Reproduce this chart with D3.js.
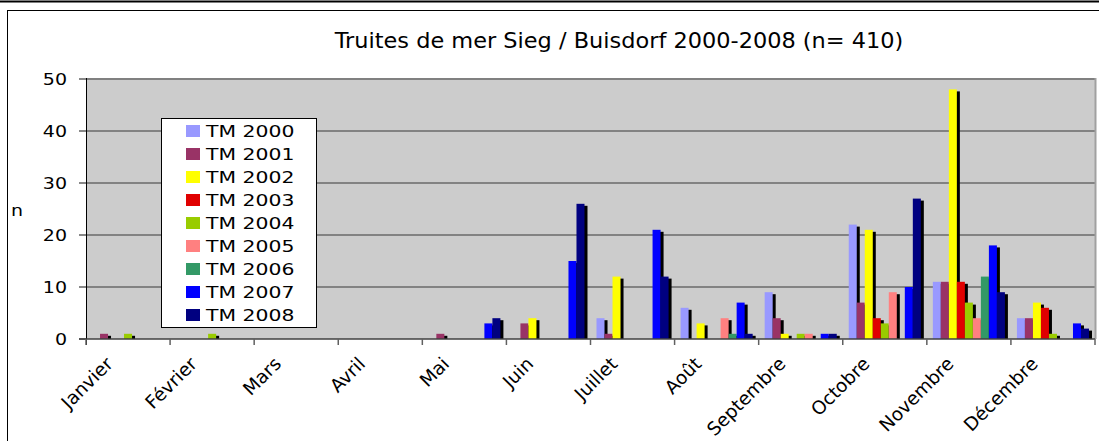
<!DOCTYPE html>
<html>
<head>
<meta charset="utf-8">
<script src="https://cdn.jsdelivr.net/npm/d3@7"></script>
<style>
  body { margin: 0; background: #fff; }
  svg text { font-family: "DejaVu Sans", Verdana, sans-serif; fill: #000; }
</style>
</head>
<body>
<svg id="chart" width="1099" height="441"></svg>
<script>
// months on the x axis
var months = ["Janvier", "Février", "Mars", "Avril", "Mai", "Juin", "Juillet",
	"Août", "Septembre", "Octobre", "Novembre", "Décembre"];
var seriesNames = ["TM 2000", "TM 2001", "TM 2002", "TM 2003", "TM 2004",
	"TM 2005", "TM 2006", "TM 2007", "TM 2008"];
var seriesColors = ["#9999ff", "#993366", "#ffff00", "#e00000", "#99cc00",
	"#ff8080", "#339966", "#0000ff", "#000080"];

// counts per month, one array per year
var tm2000 = [0, 0, 0, 0, 0, 0, 4, 6, 9, 22, 11, 4];
var tm2001 = [1, 0, 0, 0, 1, 3, 1, 0, 4, 7, 11, 4];
var tm2002 = [0, 0, 0, 0, 0, 4, 12, 3, 1, 21, 48, 7];
var tm2003 = [0, 0, 0, 0, 0, 0, 0, 0, 0, 4, 11, 6];
var tm2004 = [1, 1, 0, 0, 0, 0, 0, 0, 1, 3, 7, 1];
var tm2005 = [0, 0, 0, 0, 0, 0, 0, 4, 1, 9, 4, 0];
var tm2006 = [0, 0, 0, 0, 0, 0, 0, 1, 0, 0, 12, 0];
var tm2007 = [0, 0, 0, 0, 3, 15, 21, 7, 1, 10, 18, 3];
var tm2008 = [0, 0, 0, 0, 4, 26, 12, 1, 1, 27, 9, 2];
var seriesValues = [tm2000, tm2001, tm2002, tm2003, tm2004, tm2005, tm2006, tm2007, tm2008];

var yTicks = [0, 10, 20, 30, 40, 50];
var chartTitle = "Truites de mer Sieg / Buisdorf 2000-2008 (n= 410)";

var svg = d3.select("#chart");
var plot = { left: 86, right: 1095, top: 79, bottom: 339 };

// outer frame
svg.append("line")
	.attr("x1", 0).attr("x2", 1099).attr("y1", 1.5).attr("y2", 1.5)
	.style("stroke", "#000").style("stroke-width", 2);
svg.append("rect")
	.attr("x", 7.5).attr("y", 10.5).attr("width", 1110).attr("height", 450)
	.style("fill", "#fff").style("stroke", "#000").style("stroke-width", 1);

var x = d3.scaleBand()
	.domain(months)
	.range([plot.left, plot.right])
	.paddingInner(0).paddingOuter(0);
var xs = d3.scaleBand()
	.domain(seriesNames)
	.range([0, x.bandwidth()])
	.paddingInner(0).paddingOuter(0.75);
var y = d3.scaleLinear()
	.domain([0, 50])
	.range([plot.bottom, plot.top]);

// plot background
svg.append("rect")
	.attr("x", plot.left).attr("y", plot.top)
	.attr("width", plot.right - plot.left).attr("height", plot.bottom - plot.top)
	.style("fill", "#cccccc");

// gridlines
svg.append("g").selectAll("line")
	.data(yTicks.filter(d => d > 0))
	.enter().append("line")
	.attr("x1", plot.left).attr("x2", plot.right)
	.attr("y1", d => y(d)).attr("y2", d => y(d))
	.style("stroke", d => d == 50 ? "#808080" : "#6a6a6a")
	.style("stroke-width", d => d == 50 ? 2 : 1.5);

// right edge of plot area
svg.append("line")
	.attr("x1", plot.right + 0.5).attr("x2", plot.right + 0.5)
	.attr("y1", plot.top - 1).attr("y2", plot.bottom)
	.style("stroke", "#a0a0a0").style("stroke-width", 2);

// bars with their dark shadows
seriesNames.forEach(function (name, i) {
	var g = svg.append("g");
	var rows = months.map((m, k) => ({ month: m, value: seriesValues[i][k] }))
		.filter(d => d.value > 0);
	g.selectAll("rect.shadow")
		.data(rows)
		.enter().append("rect")
		.attr("class", "shadow")
		.attr("x", d => x(d.month) + xs(name) + 3)
		.attr("y", d => y(d.value) + 2)
		.attr("width", xs.bandwidth())
		.attr("height", d => Math.max(0, y(0) - y(d.value) - 2))
		.style("fill", "#000");
	g.selectAll("rect.bar")
		.data(rows)
		.enter().append("rect")
		.attr("class", "bar")
		.attr("x", d => x(d.month) + xs(name))
		.attr("y", d => y(d.value))
		.attr("width", xs.bandwidth())
		.attr("height", d => y(0) - y(d.value))
		.style("fill", seriesColors[i]);
});

// y axis
svg.append("line")
	.attr("x1", plot.left + 0.5).attr("x2", plot.left + 0.5)
	.attr("y1", plot.top - 1).attr("y2", plot.bottom + 6)
	.style("stroke", "#000").style("stroke-width", 1);
svg.append("g").selectAll("line")
	.data(yTicks)
	.enter().append("line")
	.attr("x1", plot.left - 7).attr("x2", plot.left)
	.attr("y1", d => y(d)).attr("y2", d => y(d))
	.style("stroke", "#606060").style("stroke-width", 1.5);
svg.append("g").selectAll("text")
	.data(yTicks)
	.enter().append("text")
	.attr("text-anchor", "end")
	.attr("transform", d => `translate(67,${y(d) + 6}) scale(1,0.85)`)
	.style("font-size", "19px")
	.text(d => d);

svg.append("text")
	.attr("transform", "translate(11,216) scale(1,0.85)")
	.style("font-size", "19px")
	.text("n");

// x axis
svg.append("line")
	.attr("x1", plot.left - 7).attr("x2", plot.right)
	.attr("y1", plot.bottom).attr("y2", plot.bottom)
	.style("stroke", "#404040").style("stroke-width", 1.5);
svg.append("g").selectAll("line")
	.data(months.concat(["end"]))
	.enter().append("line")
	.attr("x1", (d, k) => plot.left + k * x.step())
	.attr("x2", (d, k) => plot.left + k * x.step())
	.attr("y1", plot.bottom).attr("y2", plot.bottom + 6)
	.style("stroke", "#606060").style("stroke-width", 1.5);
svg.append("g").selectAll("text")
	.data(months)
	.enter().append("text")
	.attr("text-anchor", "end")
	.attr("transform", d => `translate(${x(d) + x.bandwidth() / 2 - 14},365) rotate(-45)`)
	.style("font-size", "18.5px")
	.text(d => d);

// title
svg.append("text")
	.attr("text-anchor", "middle")
	.attr("transform", "translate(619,48) scale(1.02,0.93)")
	.style("font-size", "22px")
	.text(chartTitle);

// legend
var legend = svg.append("g");
legend.append("rect")
	.attr("x", 161.5).attr("y", 118.5).attr("width", 155).attr("height", 209)
	.style("fill", "#fff").style("stroke", "#000").style("stroke-width", 1);
var items = legend.selectAll("g.item")
	.data(seriesNames)
	.enter().append("g")
	.attr("class", "item")
	.attr("transform", (d, i) => `translate(186,${125 + i * 23})`);
items.append("rect")
	.attr("width", 14).attr("height", 12)
	.style("fill", (d, i) => seriesColors[i]);
items.append("text")
	.attr("transform", "translate(20,12) scale(1.02,0.83)")
	.style("font-size", "20px")
	.text(d => d);
</script>
</body>
</html>
